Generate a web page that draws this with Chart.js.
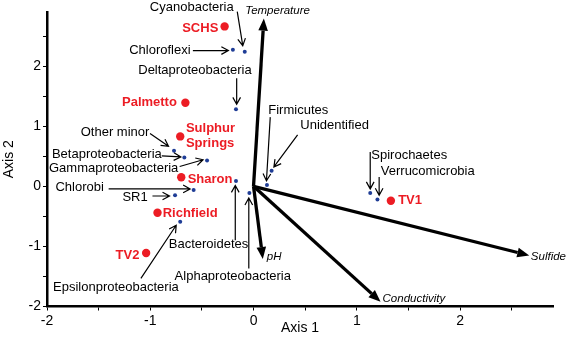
<!DOCTYPE html>
<html>
<head>
<meta charset="utf-8">
<script src="https://cdn.jsdelivr.net/npm/chart.js@4/dist/chart.umd.min.js"></script>
<style>
  html, body { margin: 0; padding: 0; background: #fff; }
  #wrap { width: 567px; height: 342px; }
</style>
</head>
<body>
<div id="wrap"><canvas id="biplot" width="567" height="342"></canvas></div>
<script>
// taxa scores (blue points)
const taxa = ["Cyanobacteria", "Chloroflexi", "Deltaproteobacteria", "Other minor", "Betaproteobacteria",
  "Gammaproteobacteria", "Chlorobi", "SR1", "Epsilonproteobacteria", "Bacteroidetes",
  "Alphaproteobacteria", "Firmicutes", "Unidentified", "Spirochaetes", "Verrucomicrobia"];
const taxaX = [-0.085, -0.20, -0.17, -0.77, -0.67, -0.45, -0.58, -0.76, -0.71, -0.17, -0.04, 0.13, 0.175, 1.13, 1.20];
const taxaY = [2.24, 2.27, 1.28, 0.59, 0.48, 0.43, -0.06, -0.15, -0.59, 0.09, -0.11, 0.02, 0.26, -0.11, -0.22];

// site scores (red points)
const sites = ["SCHS", "Palmetto", "Sulphur Springs", "Sharon", "Richfield", "TV2", "TV1"];
const siteX = [-0.28, -0.66, -0.71, -0.70, -0.93, -1.04, 1.33];
const siteY = [2.66, 1.39, 0.83, 0.15, -0.44, -1.11, -0.24];

// environmental vectors
const envVars = ["Temperature", "pH", "Conductivity", "Sulfide"];
const envX = [0.10, 0.09, 1.23, 2.67];
const envY = [2.79, -1.21, -1.92, -1.15];

const xTicks = [-2, -1, 0, 1, 2];
const yTicks = [-2, -1, 0, 1, 2];

const FONT = "'Liberation Sans', Arial, Helvetica, sans-serif";
const RED = "#ec1c24";
const BLUE = "#1f3d96";

// label placement, pixel offsets from the point: text centre (dx,dy), pointer from (ax,ay) to (bx,by)
const taxaLabel = {
  "Cyanobacteria":         { dx: -53,  dy: -44,  ax: -7.5,  ay: -40,  bx: -2,   by: -6 },
  "Chloroflexi":           { dx: -73,  dy: 0.7,  ax: -40,   ay: 0.7,  bx: -4.5, by: 0.7 },
  "Deltaproteobacteria":   { dx: -41,  dy: -38.6, ax: 0.7,  ay: -31,  bx: 0.7,  by: -5 },
  "Other minor":           { dx: -59,  dy: -18.4, ax: -24,  ay: -17.4, bx: -5.5, by: -4.5 },
  "Betaproteobacteria":    { dx: -77.5, dy: -3,  ax: -22.6, ay: -1.5, bx: -3.5, by: -0.5 },
  "Gammaproteobacteria":   { dx: -93.4, dy: 7.6, ax: -27.4, ay: 6,    bx: -4,   by: -0.7 },
  "Chlorobi":              { dx: -114, dy: -2,   ax: -85,   ay: -1,   bx: -3.5, by: -1 },
  "SR1":                   { dx: -40,  dy: 2,    ax: -22.6, ay: 0.7,  bx: -5.5, by: 0.7 },
  "Epsilonproteobacteria": { dx: -64.3, dy: 65.6, ax: -39.3, ay: 56.6, bx: -4,  by: 3.5 },
  "Bacteroidetes":         { dx: -27.5, dy: 63.6, ax: -0.7, ay: 59.3, bx: -0.7, by: 4.5 },
  "Alphaproteobacteria":   { dx: -16.6, dy: 83.3, ax: -0.6, ay: 75.6, bx: -0.6, by: 5 },
  "Firmicutes":            { dx: 31.3, dy: -74.6, ax: 3.3,  ay: -68,  bx: -0.5, by: -4.3 },
  "Unidentified":          { dx: 63,   dy: -45.7, ax: 26,   ay: -35.7, bx: 2.3, by: -3.7 },
  "Spirochaetes":          { dx: 39,   dy: -37.7, ax: 0,    ay: -41,  bx: 0,    by: -4 },
  "Verrucomicrobia":       { dx: 50.3, dy: -27.6, ax: 1.7,  ay: -22.6, bx: 1.7, by: -4.3 }
};
// site labels: align, offset of first line
const siteLabel = {
  "SCHS":            { align: "right", dx: -6.3, dy: 1.6 },
  "Palmetto":        { align: "right", dx: -8.5, dy: 0 },
  "Sulphur Springs": { align: "left",  dx: 5.7,  dy: -7.7, lines: ["Sulphur", "Springs"] },
  "Sharon":          { align: "left",  dx: 6.4,  dy: 1.7 },
  "Richfield":       { align: "left",  dx: 5.2,  dy: 0.8 },
  "TV2":             { align: "right", dx: -6.7, dy: 2 },
  "TV1":             { align: "left",  dx: 7.3,  dy: 0 }
};
const envLabel = {
  "Temperature":  { dx: -18.7, dy: -7.5 },
  "pH":           { dx: 4,     dy: -2 },
  "Conductivity": { dx: 2,     dy: -2.7 },
  "Sulfide":      { dx: 1.6,   dy: 1.6 }
};

function openHead(ctx, x0, y0, x1, y1, len, ang) {
  const a = Math.atan2(y1 - y0, x1 - x0);
  ctx.beginPath();
  ctx.moveTo(x0, y0);
  ctx.lineTo(x1, y1);
  ctx.moveTo(x1 - len * Math.cos(a - ang), y1 - len * Math.sin(a - ang));
  ctx.lineTo(x1, y1);
  ctx.lineTo(x1 - len * Math.cos(a + ang), y1 - len * Math.sin(a + ang));
  ctx.stroke();
}

function solidArrow(ctx, x0, y0, x1, y1) {
  const a = Math.atan2(y1 - y0, x1 - x0);
  const len = 12, half = 4.8;
  const bx = x1 - len * Math.cos(a), by = y1 - len * Math.sin(a);
  ctx.beginPath();
  ctx.moveTo(x0, y0);
  ctx.lineTo(bx, by);
  ctx.stroke();
  ctx.beginPath();
  ctx.moveTo(x1, y1);
  ctx.lineTo(bx + half * Math.sin(a), by - half * Math.cos(a));
  ctx.lineTo(bx - half * Math.sin(a), by + half * Math.cos(a));
  ctx.closePath();
  ctx.fill();
}

const biplotLayer = {
  id: "biplotLayer",
  beforeDatasetsDraw(chart) {
    const ctx = chart.ctx, xs = chart.scales.x, ys = chart.scales.y;
    const ox = xs.getPixelForValue(0), oy = ys.getPixelForValue(0);
    ctx.save();
    ctx.strokeStyle = "#000";
    ctx.fillStyle = "#000";
    ctx.lineWidth = 3.3;
    ctx.lineCap = "butt";
    envVars.forEach((name, i) => {
      solidArrow(ctx, ox, oy, xs.getPixelForValue(envX[i]), ys.getPixelForValue(envY[i]));
    });
    ctx.restore();
  },
  afterDatasetsDraw(chart) {
    const ctx = chart.ctx, xs = chart.scales.x, ys = chart.scales.y;
    ctx.save();
    // taxa labels with pointers
    ctx.strokeStyle = "#000";
    ctx.fillStyle = "#000";
    ctx.lineWidth = 1.2;
    ctx.font = "13px " + FONT;
    ctx.textAlign = "center";
    ctx.textBaseline = "middle";
    taxa.forEach((name, i) => {
      const p = taxaLabel[name];
      const px = xs.getPixelForValue(taxaX[i]), py = ys.getPixelForValue(taxaY[i]);
      ctx.fillText(name, px + p.dx, py + p.dy);
      openHead(ctx, px + p.ax, py + p.ay, px + p.bx, py + p.by, 8, 0.5);
    });
    // site labels
    ctx.fillStyle = RED;
    ctx.font = "bold 13px " + FONT;
    sites.forEach((name, i) => {
      const p = siteLabel[name];
      const px = xs.getPixelForValue(siteX[i]), py = ys.getPixelForValue(siteY[i]);
      ctx.textAlign = p.align;
      (p.lines || [name]).forEach((t, k) => ctx.fillText(t, px + p.dx, py + p.dy + k * 14.3));
    });
    // environmental labels
    ctx.fillStyle = "#000";
    ctx.font = "italic 11.5px " + FONT;
    ctx.textAlign = "left";
    envVars.forEach((name, i) => {
      const p = envLabel[name];
      ctx.fillText(name, xs.getPixelForValue(envX[i]) + p.dx, ys.getPixelForValue(envY[i]) + p.dy);
    });
    ctx.restore();
  }
};

new Chart(document.getElementById("biplot"), {
  type: "scatter",
  data: {
    datasets: [
      {
        label: "Taxa",
        data: taxa.map((t, i) => ({ x: taxaX[i], y: taxaY[i] })),
        backgroundColor: BLUE,
        borderWidth: 0,
        pointRadius: 2
      },
      {
        label: "Sites",
        data: sites.map((s, i) => ({ x: siteX[i], y: siteY[i] })),
        backgroundColor: RED,
        borderWidth: 0,
        pointRadius: 4.2
      }
    ]
  },
  options: {
    responsive: false,
    animation: false,
    devicePixelRatio: 1,
    layout: { padding: { top: 12, right: 14, left: 0, bottom: 0 } },
    plugins: { legend: { display: false }, tooltip: { enabled: false } },
    scales: {
      x: {
        type: "linear",
        min: -2,
        max: 2.9,
        afterFit: s => { s.height = 35.5; },
        ticks: {
          stepSize: 0.5,
          includeBounds: false,
          autoSkip: false,
          maxRotation: 0,
          padding: 2,
          color: "#000",
          font: { family: FONT, size: 14 },
          callback: v => xTicks.includes(v) ? String(v) : ""
        },
        grid: { drawOnChartArea: false, tickLength: 4, tickColor: "#000", tickWidth: 1 },
        border: { display: true, color: "#000", width: 2.5 },
        title: { display: true, text: "Axis 1", color: "#000", font: { family: FONT, size: 14 }, padding: { top: 0, bottom: 5 } }
      },
      y: {
        type: "linear",
        min: -2,
        max: 2.9,
        afterFit: s => { s.width = 47; },
        ticks: {
          stepSize: 0.5,
          includeBounds: false,
          autoSkip: false,
          padding: 2,
          color: "#000",
          font: { family: FONT, size: 14 },
          callback: v => yTicks.includes(v) ? String(v) : ""
        },
        grid: { drawOnChartArea: false, tickLength: 4, tickColor: "#000", tickWidth: 1 },
        border: { display: true, color: "#000", width: 2.5 },
        title: { display: true, text: "Axis 2", color: "#000", font: { family: FONT, size: 14 }, padding: { top: 1, bottom: 0 } }
      }
    }
  },
  plugins: [biplotLayer]
});
</script>
</body>
</html>
